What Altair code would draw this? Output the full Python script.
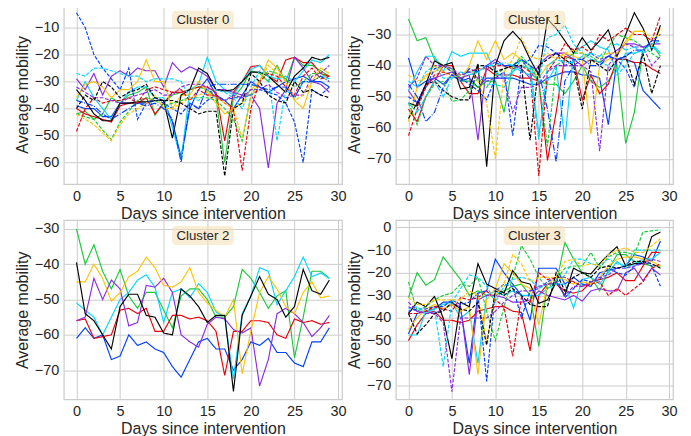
import altair as alt
import pandas as pd

DAYS = list(range(30))
COLOR_CODES = ["b", "g", "r", "c", "m", "y", "k"]
COLOR_HEX = ["#023eff", "#1ac938", "#e8000b", "#00d7ff", "#8b2be2", "#ffc400", "#000000"]
STYLES = ["solid", "dashed", "dashdot"]
DASHES = [[1, 0], [3.7, 1.6], [6.4, 1.6, 1, 1.6]]
X_TICKS = [0, 5, 10, 15, 20, 25, 30]

# ---------------- Cluster 0 ----------------
c0_b = [-39,-40,-40,-43,-43,-38,-38,-38,-38,-37,-37,-45,-58,-40,-33,-29,-35,-37,-40,-35,-30,-32,-34,-32,-30,-29,-28,-30,-30,-32]
c0_g = [-42,-41,-44,-42,-36,-38,-35,-34,-32,-42.5,-38,-35,-34,-33,-32,-33,-36,-60,-36,-32,-26,-27,-30,-24,-30,-21,-24,-24,-26,-28]
c0_r = [-40,-42,-43,-44,-45,-39,-38,-38,-36,-42,-38,-34,-34,-33,-32,-32,-34,-52,-34,-30,-24.5,-24,-28,-30,-22,-21,-23,-23,-27,-28]
c0_c = [-37,-30,-36,-40,-44,-38,-34,-32,-32,-36,-36,-47,-59,-33,-31,-21,-30,-33,-35,-30,-25.5,-24,-28,-29,-28,-30,-26,-22,-23,-20]
c0_m = [-29,-33,-27,-35,-28,-26,-28,-25,-26,-26,-32,-23,-26.5,-24.5,-26,-28,-33,-33,-34,-35,-35,-40,-62,-38,-33,-21,-25,-30,-31,-34]
c0_y = [-36,-31,-30,-32,-36,-33,-33,-30,-22,-30,-30,-40,-35,-35,-30,-34,-38,-42,-40,-38,-33,-30,-22,-25,-30,-37,-40,-30,-25,-27]
c0_k = [-33,-37,-42,-44.5,-44.5,-38,-38,-37.5,-37.5,-37,-37,-51,-35,-33,-25,-27,-33,-33.5,-33,-30,-26.5,-26.5,-28,-31,-34,-28,-25,-21,-22,-21]
c0_b_dash = [-4.5,-10,-20,-25,-29,-33,-25,-44,-38,-36,-38,-40,-42,-38,-40,-37,-35,-37,-36,-36,-35,-33,-34,-35,-38,-45,-60,-33,-35,-32]
c0_g_dash = [-42,-43,-44,-48,-51.5,-45,-41,-37,-36,-37,-39,-38,-37,-36,-36,-36,-37,-40,-44,-52,-35,-30,-26,-27,-29,-32,-30,-27,-27,-29]
c0_r_dash = [-48.5,-40,-36,-38,-37,-37,-36,-38,-33,-32,-33,-34,-33,-37,-33,-35,-35,-38,-40,-63,-40,-30,-27,-28,-32,-35,-28,-25,-29,-28]
c0_c_dash = [-27,-28,-25,-25,-26,-27,-28,-28,-30,-29,-29,-29,-30,-36,-37,-34,-33,-34,-36,-40,-32,-26,-28,-52,-33,-36,-30,-30,-28,-29]
c0_m_dash = [-32,-34,-36,-36,-37,-38,-36,-35,-34,-33,-35,-35,-32,-31,-31,-32,-36,-37,-35,-36,-33,-33,-31,-34,-36,-35,-35,-28,-27,-24]
c0_y_dash = [-42,-44,-46,-49,-52,-46,-42,-40,-38,-35,-40,-40,-38,-36,-35,-34,-36,-38,-40,-51,-36,-30,-24,-27,-30,-37,-35,-30,-28,-30]
c0_k_dash = [-40,-35,-37,-30,-32,-36,-34,-33,-31,-36,-37,-37,-38,-40,-42,-41,-41,-65,-40,-38,-27,-30,-35,-37,-38,-30,-34,-33,-35,-36]
c0_b_dashdot = [-37,-38,-39,-42,-44,-42,-40,-38,-39,-38,-40,-44,-60,-38,-40,-32,-31,-31,-31,-31,-31,-32,-33,-32,-32,-36,-30,-30,-28,-30]

# ---------------- Cluster 1 ----------------
c1_b = [-37.5,-47,-45,-44,-46,-43,-45,-44,-47,-44,-44,-44,-44,-45,-46,-46,-44,-43,-42,-42,-43,-43,-44,-59,-38,-38,-39,-48,-51,-54]
c1_g = [-25,-32,-31,-38,-40,-41,-45,-45,-47,-45,-45,-55,-40,-38,-42,-45,-46,-46,-49,-45,-40,-45,-47,-45,-40,-65,-55,-35,-33,-37]
c1_r = [-54,-58,-50,-45,-40,-40,-45,-49,-49,-41,-43,-43,-43,-44,-44,-45,-70.5,-55,-37,-38,-51,-43,-49,-46,-38,-38,-39,-39,-41,-42.5]
c1_c = [-48,-42,-37,-37,-42,-35.5,-37,-36,-36,-36,-42,-44,-42,-38,-40,-62,-45,-40,-64,-36,-34,-32,-34,-35,-42,-36,-36,-35,-33,-36]
c1_m = [-48,-52,-46,-44,-43,-42,-44,-43,-64,-40,-38,-40,-40,-41,-44,-40,-37,-36,-36,-38,-40,-38,-39,-37,-35,-33,-33,-34,-33,-33]
c1_y = [-58,-47,-43,-42,-40,-42,-45,-40,-32,-38,-32,-38,-36,-38,-40,-44,-40,-38,-36,-37,-38,-62,-40,-38,-37,-32,-29,-29,-34,-28]
c1_k = [-52,-53,-46,-38.5,-40,-39,-47.5,-47,-39.5,-72.5,-40,-32,-29,-32,-38,-43,-25,-28,-32,-36,-31,-35,-32,-28.5,-37,-30,-23,-28,-35,-27]
c1_b_dash = [-50,-52,-47,-41,-40,-42,-44,-46,-48,-51,-44,-42,-62.5,-40,-38,-33.5,-34,-36,-40,-38,-38,-36,-38,-37,-38,-41,-47,-35,-32,-30]
c1_g_dash = [-52,-59,-50,-46,-45,-51.5,-51,-48,-44,-47,-43,-41,-40,-37,-40,-45,-66,-40,-38,-36,-36,-37,-39,-34,-30,-31,-32,-34,-36,-38]
c1_r_dash = [-62.5,-54,-47,-43,-42,-43,-43,-42,-41,-41,-40,-40,-41,-40,-42,-75.5,-42,-38,-33,-35,-34,-36,-30,-32,-30,-28,-30,-30,-32,-24]
c1_c_dash = [-45,-47,-42,-40,-44,-44,-43,-42,-42,-46,-46,-47,-42,-40,-41,-45,-31,-30,-27,-33,-36,-38,-39,-40,-43,-40,-36,-35,-33,-32]
c1_m_dash = [-47,-44,-37,-40,-40,-41,-43,-42,-44,-45,-44,-44,-55,-47,-47,-46,-42,-40,-40,-40,-40,-42,-67.5,-40,-36,-33,-34,-34,-40,-37]
c1_y_dash = [-43,-45,-44,-40,-42,-44,-43,-41,-45,-52,-70,-42,-38,-31,-37,-38,-36,-38,-36,-35,-36,-40,-37,-36,-36,-33,-29,-29,-31,-30]
c1_k_dash = [-57,-52,-46,-45,-48,-50,-51,-51,-40,-40,-42,-41,-40,-40,-64,-40,-38,-36,-38,-40,-54,-38,-40,-42,-38,-37,-46,-36,-49,-40]
c1_b_dashdot = [-46,-50,-58,-55,-47,-43,-45,-41,-42,-40,-39,-40,-40,-38,-40,-42,-54,-71,-45,-40,-38,-40,-40,-37,-38,-37,-35,-35,-32,-32]
c1_c_dashdot = [-52,-55,-50,-45,-50,-44,-42,-43,-42,-40,-40,-39,-40,-42,-43,-64,-40,-38,-39,-39,-37,-36,-37,-34,-33,-35,-34,-36,-34,-36]

# ---------------- Cluster 2 ----------------
c2_b = [-61,-58,-61,-60,-67,-66,-60,-63,-62,-64,-65,-69,-72,-67,-62,-61,-64,-64,-70,-67,-62,-63,-61,-65,-65,-68,-69,-62,-62,-58]
c2_g = [-30,-40,-34.5,-42,-47,-41.5,-49,-52.5,-48,-48,-53,-58,-49,-47,-47,-50,-55,-55,-52,-41.5,-44,-48,-52.5,-49,-47.5,-66.5,-55,-42,-42,-44]
c2_r = [-56,-55.5,-61,-60.5,-60,-53,-52.5,-54,-52.5,-59,-59,-54.5,-54.5,-55.5,-55,-56,-59,-71.5,-59,-59,-56,-56,-56.5,-60,-61,-55.5,-56.5,-56,-57,-56.5]
c2_c = [-51,-53,-55,-60,-55,-50,-48,-44.5,-43,-46.5,-56.5,-48,-47,-49.5,-45.5,-48,-53.5,-55,-72.5,-54,-49,-41,-42,-51.5,-47.5,-43.5,-38,-43.5,-42.5,-44]
c2_m = [-56,-55,-44,-50,-44.5,-47,-57.5,-56.5,-46,-46.5,-44,-48,-60,-62,-63.5,-57,-55,-55.5,-58.5,-59.5,-58,-74.5,-67,-54,-52.5,-54,-56.5,-60.5,-58,-54.5]
c2_y = [-45,-45,-40,-44,-50.5,-48,-43.5,-42,-38,-41,-46,-46.5,-45,-41,-48,-51,-53,-55,-50,-71,-59,-48,-43.5,-47,-52,-54,-48,-45,-49.5,-49]
c2_k = [-39.5,-54,-56,-60,-64,-52,-48.5,-48.5,-54.5,-55,-59.5,-60,-47,-49,-52,-56.5,-54.5,-54.5,-76,-54.5,-49,-43.5,-48.5,-50,-55,-52,-41.5,-47.5,-48.5,-44.5]

# ---------------- Cluster 3 ----------------
c3_b = [-47,-38,-37,-36,-33,-33,-36,-60,-29,-28,-14,-20,-25,-30,-41,-18,-18,-18,-25,-22,-25,-26,-20,-19,-18,-17,-12,-13,-15,-6]
c3_g = [-31,-20,-25.5,-23,-13,-18,-23,-30,-28,-30,-30,-28,-26,-25,-30,-52.5,-25,-25,-6.5,-14,-20,-22,-28,-19,-12,-12,-15,-16,-17,-17]
c3_r = [-50,-43,-38,-37,-41,-41,-42,-41,-37,-36,-35,-35,-37,-37.5,-54.5,-30,-25,-25,-28,-29,-28,-24,-23,-22,-20,-23.5,-23.5,-17,-11,-11]
c3_c = [-47.5,-47.5,-37,-36,-34,-33,-40,-37,-60,-30,-28,-30,-28,-30,-30,-30,-27,-25,-25,-35.5,-23,-22,-25,-20,-15,-18,-16,-14,-14,-11]
c3_m = [-35,-37,-37,-38,-36,-34,-35,-65,-32,-30,-30,-31,-33,-33,-32,-28,-30,-31,-32,-30,-32.5,-28,-27,-28,-28,-20,-18,-23.5,-18,-21]
c3_y = [-45,-40,-36,-34,-36,-34,-37,-35,-65,-32,-27,-16,-20,-25,-27,-43,-25,-22,-23,-25,-24,-25,-22,-17,-14,-13,-13,-14,-15,-17]
c3_k = [-38,-33,-35,-30.5,-40,-58,-33,-35,-16,-25,-27,-29,-19,-24,-25,-33.5,-32,-24,-30,-18,-20,-20.5,-16,-12,-8.5,-17,-16,-16,-4,-2]
c3_b_dash = [-37,-36,-36,-35,-35,-32,-34,-33,-29,-68,-28,-25,-26,-40,-28,-27,-24,-22,-31,-27,-23,-24,-23,-18,-20,-21,-17,-15,-17,-26]
c3_g_dash = [-24,-37,-35,-32,-30,-29,-25,-26,-22,-37,-50,-35,-22,-8,-14,-22,-27,-23,-18,-17,-17,-11,-18,-13,-11,-11,-12,-2,-1.5,-1]
c3_r_dash = [-38,-38,-37,-35,-36,-37,-31,-32,-31,-28,-32,-35,-57,-31,-33,-20,-23,-22,-22,-24,-26,-25,-24,-30,-27,-30,-27,-24,-18,-16]
c3_c_dash = [-36,-35,-38,-36,-61.5,-33,-27,-21,-22,-26,-33,-26,-23,-22,-23,-27,-25,-25,-21,-14,-14,-16,-17,-14,-16,-17,-10,-10,-10,-10]
c3_m_dash = [-33,-37,-38,-38,-42,-72.5,-40,-40,-40,-40,-37,-33,-30,-28,-28,-26,-25,-24,-30,-26,-26,-24,-22,-21,-18,-18,-17,-16,-14,-15]
c3_y_dash = [-31,-34,-34,-32,-32,-32,-32,-28,-30,-50,-30,-25,-12,-16,-24,-22,-22,-22,-15,-14,-17,-16,-17,-12,-10,-9,-11,-11,-8,-5]
c3_k_dash = [-38,-47,-43,-38,-37,-33,-36,-37,-33,-52,-28,-30,-27,-30,-34,-35,-35,-20,-28,-22,-20,-22,-18,-17,-18,-17,-15,-15,-16,-18]

CLUSTERS = [
    ("Cluster 0", [("b","solid",c0_b),("g","solid",c0_g),("r","solid",c0_r),("c","solid",c0_c),
                   ("m","solid",c0_m),("y","solid",c0_y),("k","solid",c0_k),
                   ("b","dashed",c0_b_dash),("g","dashed",c0_g_dash),("r","dashed",c0_r_dash),("c","dashed",c0_c_dash),
                   ("m","dashed",c0_m_dash),("y","dashed",c0_y_dash),("k","dashed",c0_k_dash),
                   ("b","dashdot",c0_b_dashdot)],
     [-68.0, -1.5], [-60, -50, -40, -30, -20, -10], 279),
    ("Cluster 1", [("b","solid",c1_b),("g","solid",c1_g),("r","solid",c1_r),("c","solid",c1_c),
                   ("m","solid",c1_m),("y","solid",c1_y),("k","solid",c1_k),
                   ("b","dashed",c1_b_dash),("g","dashed",c1_g_dash),("r","dashed",c1_r_dash),("c","dashed",c1_c_dash),
                   ("m","dashed",c1_m_dash),("y","dashed",c1_y_dash),("k","dashed",c1_k_dash),
                   ("b","dashdot",c1_b_dashdot),("c","dashdot",c1_c_dashdot)],
     [-78.1, -20.4], [-70, -60, -50, -40, -30], 278),
    ("Cluster 2", [("b","solid",c2_b),("g","solid",c2_g),("r","solid",c2_r),("c","solid",c2_c),
                   ("m","solid",c2_m),("y","solid",c2_y),("k","solid",c2_k)],
     [-78.3, -27.5], [-70, -60, -50, -40, -30], 279),
    ("Cluster 3", [("b","solid",c3_b),("g","solid",c3_g),("r","solid",c3_r),("c","solid",c3_c),
                   ("m","solid",c3_m),("y","solid",c3_y),("k","solid",c3_k),
                   ("b","dashed",c3_b_dash),("g","dashed",c3_g_dash),("r","dashed",c3_r_dash),("c","dashed",c3_c_dash),
                   ("m","dashed",c3_m_dash),("y","dashed",c3_y_dash),("k","dashed",c3_k_dash)],
     [-76.0, 3.3], [-70, -60, -50, -40, -30, -20, -10, 0], 278),
]

FONT = "Liberation Sans"
H = 180


def make_panel(label, series, ydom, yticks, W):
    rows = []
    for i, (col, sty, vals) in enumerate(series):
        for d, v in zip(DAYS, vals):
            rows.append({"sid": i, "col": col, "sty": sty, "day": d, "val": v})
    df = pd.DataFrame(rows)
    lines = alt.Chart(df).mark_line(strokeWidth=1.15, clip=True).encode(
        x=alt.X("day:Q", scale=alt.Scale(domain=[-1.45, 30.45], nice=False, zero=False),
                axis=alt.Axis(values=X_TICKS, title="Days since intervention")),
        y=alt.Y("val:Q", scale=alt.Scale(domain=ydom, nice=False, zero=False),
                axis=alt.Axis(values=yticks, title="Average mobility")),
        color=alt.Color("col:N", scale=alt.Scale(domain=COLOR_CODES, range=COLOR_HEX), legend=None),
        strokeDash=alt.StrokeDash("sty:N", scale=alt.Scale(domain=STYLES, range=DASHES), legend=None),
        detail="sid:N",
        order="day:Q",
    )
    lab = pd.DataFrame({"t": [label]})
    box = alt.Chart(lab).mark_rect(color="#f5deb3", opacity=0.55, cornerRadius=4).encode(
        x=alt.value(W / 2 - 31), x2=alt.value(W / 2 + 31), y=alt.value(6), y2=alt.value(25)
    )
    txt = alt.Chart(lab).mark_text(font=FONT, fontSize=13.3, color="#262626", baseline="middle", align="center").encode(
        x=alt.value(W / 2), y=alt.value(15.8), text="t:N"
    )
    return alt.layer(lines, box, txt).properties(width=W, height=H)


panels = [make_panel(*c) for c in CLUSTERS]

chart = alt.concat(*panels, columns=2, spacing={"row": 36, "column": 54}, bounds="flush").properties(
    padding={"left": 5, "top": -5, "right": 5, "bottom": 5}
).configure_axis(
    grid=True, gridColor="#cccccc", gridWidth=1, domain=False, ticks=False,
    labelFont=FONT, labelFontSize=14.5, labelColor="#262626", labelPadding=5,
    titleFont=FONT, titleFontSize=16, titleColor="#262626", titleFontWeight="normal",
).configure_axisX(titlePadding=3).configure_axisY(titlePadding=4).configure_view(
    stroke="#cccccc", strokeWidth=1.25
)

chart.save("out.html", embed_options={"renderer": "svg", "actions": False})
